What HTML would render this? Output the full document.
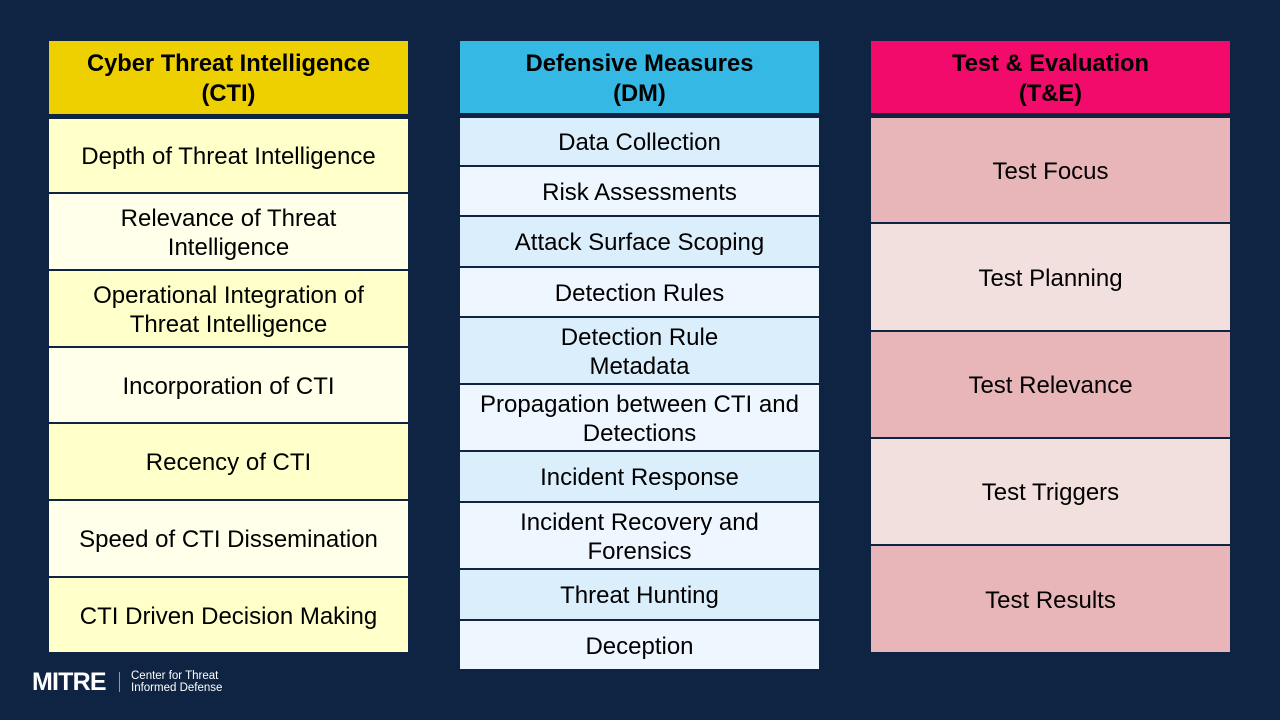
<!DOCTYPE html>
<html><head><style>
body{margin:0;width:1280px;height:720px;background:#0f2442;position:relative;overflow:hidden;font-family:"Liberation Sans",Arial,sans-serif}
.c{position:absolute;display:flex;align-items:center;justify-content:center;text-align:center;color:#000;font-size:24px;line-height:29px;box-sizing:border-box;padding-top:2px}
.h{font-weight:bold;font-size:23.7px;line-height:30px;padding-top:3px}
</style></head><body>
<div class="c h" style="left:49px;top:41px;width:359px;height:73px;background:#eecf00">Cyber Threat Intelligence<br>(CTI)</div>
<div class="c h" style="left:460px;top:41px;width:359px;height:72px;background:#35b8e4">Defensive Measures<br>(DM)</div>
<div class="c h" style="left:871px;top:41px;width:359px;height:72px;background:#f20b6a">Test &amp; Evaluation<br>(T&amp;E)</div>

<div class="c" style="left:49px;top:119px;width:359px;height:73px;background:#ffffc9">Depth of Threat Intelligence</div>
<div class="c" style="left:49px;top:194px;width:359px;height:75px;background:#ffffea">Relevance of Threat<br>Intelligence</div>
<div class="c" style="left:49px;top:271px;width:359px;height:75px;background:#ffffc9">Operational Integration of<br>Threat Intelligence</div>
<div class="c" style="left:49px;top:348px;width:359px;height:74px;background:#ffffea">Incorporation of CTI</div>
<div class="c" style="left:49px;top:424px;width:359px;height:75px;background:#ffffc9">Recency of CTI</div>
<div class="c" style="left:49px;top:501px;width:359px;height:75px;background:#ffffea">Speed of CTI Dissemination</div>
<div class="c" style="left:49px;top:578px;width:359px;height:74px;background:#ffffc9">CTI Driven Decision Making</div>

<div class="c" style="left:460px;top:118px;width:359px;height:47px;background:#dbeefc">Data Collection</div>
<div class="c" style="left:460px;top:167px;width:359px;height:48px;background:#eef6ff">Risk Assessments</div>
<div class="c" style="left:460px;top:217px;width:359px;height:49px;background:#dbeefc">Attack Surface Scoping</div>
<div class="c" style="left:460px;top:268px;width:359px;height:48px;background:#eef6ff">Detection Rules</div>
<div class="c" style="left:460px;top:318px;width:359px;height:65px;background:#dbeefc">Detection Rule<br>Metadata</div>
<div class="c" style="left:460px;top:385px;width:359px;height:65px;background:#eef6ff">Propagation between CTI and<br>Detections</div>
<div class="c" style="left:460px;top:452px;width:359px;height:49px;background:#dbeefc">Incident Response</div>
<div class="c" style="left:460px;top:503px;width:359px;height:65px;background:#eef6ff">Incident Recovery and<br>Forensics</div>
<div class="c" style="left:460px;top:570px;width:359px;height:49px;background:#dbeefc">Threat Hunting</div>
<div class="c" style="left:460px;top:621px;width:359px;height:48px;background:#eef6ff">Deception</div>

<div class="c" style="left:871px;top:118px;width:359px;height:104px;background:#e8b6b8">Test Focus</div>
<div class="c" style="left:871px;top:224px;width:359px;height:106px;background:#f2e0df">Test Planning</div>
<div class="c" style="left:871px;top:332px;width:359px;height:105px;background:#e8b6b8">Test Relevance</div>
<div class="c" style="left:871px;top:439px;width:359px;height:105px;background:#f2e0df">Test Triggers</div>
<div class="c" style="left:871px;top:546px;width:359px;height:106px;background:#e8b6b8">Test Results</div>

<div style="position:absolute;left:32px;top:668px;color:#fff;font-weight:bold;font-size:25px;letter-spacing:-0.8px;line-height:28px">MITRE</div>
<div style="position:absolute;left:119px;top:672px;width:1px;height:20px;background:#8899aa"></div>
<div style="position:absolute;left:131px;top:670px;color:#fff;font-size:11.5px;line-height:12px">Center for Threat<br>Informed Defense</div>
</body></html>
